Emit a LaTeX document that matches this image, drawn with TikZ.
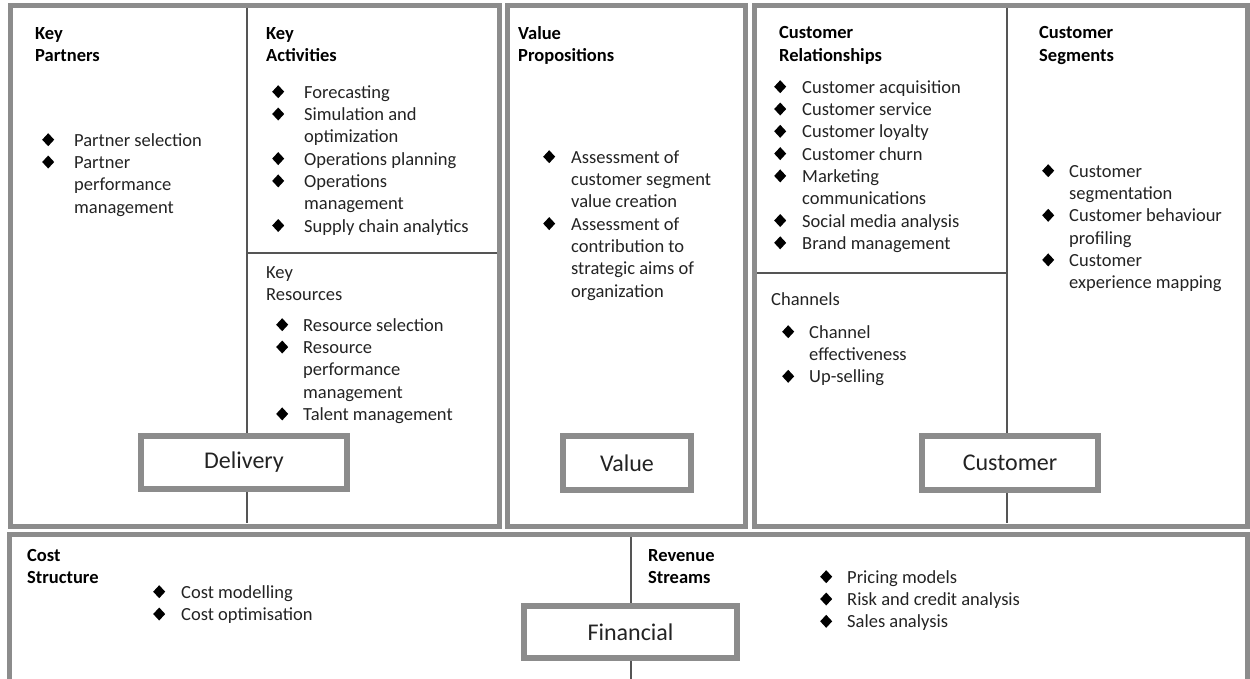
\documentclass[tikz,border=0pt]{standalone}
\usepackage{fontspec}
\setmainfont{Carlito}
\definecolor{bord}{RGB}{140,140,140}
\definecolor{thinc}{RGB}{85,85,85}
\definecolor{txt}{RGB}{35,35,35}
\newlength\bw
\newcommand\dia{\tikz[baseline=0pt]\fill[black] (6bp,0bp)--(12bp,6.5bp)--(6bp,13bp)--(0bp,6.5bp)--cycle;}
\newcommand\bl{\strut\makebox[\bw][l]{\dia}}
\newcommand\ind{\strut\hspace*{\bw}}
\newcommand\hs{\strut}
\tikzset{
  lst/.style={anchor=north west, inner sep=0pt, align=left,
    font=\fontsize{18.5bp}{22.3bp}\selectfont, text=txt,
    execute at begin node={\setlength\bw{#1bp}}},
  hdr/.style={anchor=north west, inner sep=0pt, align=left,
    font=\fontsize{18.5bp}{22.3bp}\selectfont\bfseries, text=black},
  hdrn/.style={anchor=north west, inner sep=0pt, align=left,
    font=\fontsize{18.5bp}{22.3bp}\selectfont, text=txt},
  lbl/.style={draw=bord, line width=6bp, fill=white,
    font=\fontsize{24bp}{28bp}\selectfont, text=txt, inner sep=0pt},
  outerbox/.style={draw=bord, line width=5bp},
  divline/.style={draw=thinc, line width=1.5bp}
}
\begin{document}
\begin{tikzpicture}[x=1bp,y=-1bp]
\useasboundingbox (0,0) rectangle (1250,679);
% outer boxes
\draw[outerbox] (10.5,5.5) rectangle (499.5,526);
\draw[outerbox] (507.5,5.5) rectangle (745.5,526);
\draw[outerbox] (754.5,5.5) rectangle (1247.5,526);
\draw[outerbox] (9.5,534.5) rectangle (1247.5,681);
% label boxes
\node[lbl, minimum width=206bp, minimum height=53bp] (delivery) at (244,462.5) {Delivery};
\node[lbl, minimum width=128bp, minimum height=54bp] (value) at (627,463) {Value};
\node[lbl, minimum width=176bp, minimum height=54bp] (customer) at (1010,463) {Customer};
\node[lbl, minimum width=213bp, minimum height=52bp] (financial) at (630.5,632) {Financial};
% divider coordinates
\coordinate (a1) at (247,8);
\coordinate (a2) at (247,523);
\coordinate (b1) at (1007,8);
\coordinate (b2) at (1007,523);
\coordinate (c1) at (631,537);
\coordinate (c2) at (631,679);
\coordinate (h1) at (247,253);
\coordinate (h2) at (497,253);
\coordinate (k1) at (757,273);
\coordinate (k2) at (1007,273);
\draw[divline] (a1) -- (a1 |- delivery.north);
\draw[divline] (a1 |- delivery.south) -- (a2);
\draw[divline] (b1) -- (b1 |- customer.north);
\draw[divline] (b1 |- customer.south) -- (b2);
\draw[divline] (c1) -- (c1 |- financial.north);
\draw[divline] (c1 |- financial.south) -- (c2);
\draw[divline] (h1) -- (h2);
\draw[divline] (k1) -- (k2);
% headers
\node[hdr] (kph) at (35,23.4) {\hs Key\\\hs Partners};
\node[hdr] (kah) at (266,23.4) {\hs Key\\\hs Activities};
\node[hdrn] (krh) at (266,262.4) {\hs Key\\\hs Resources};
\node[hdr] (vph) at (518,23.4) {\hs Value\\\hs Propositions};
\node[hdr] (crh) at (779,23) {\hs Customer\\\hs Relationships};
\node[hdrn] (chh) at (771,289.4) {\hs Channels};
\node[hdr] (csh) at (1039,23) {\hs Customer\\\hs Segments};
\node[hdr] (coh) at (27,545.4) {\hs Cost\\\hs Structure};
\node[hdr] (rvh) at (648,545.4) {\hs Revenue\\\hs Streams};
% lists
\node[lst=32] (kpl) at (42,130.4) {\bl Partner selection\\\bl Partner\\\ind performance\\\ind management};
\node[lst=32] (kal) at (272,82.4) {\bl Forecasting\\\bl Simulation and\\\ind optimization\\\bl Operations planning\\\bl Operations\\\ind management\\\bl Supply chain analytics};
\node[lst=27] (krl) at (276,315.4) {\bl Resource selection\\\bl Resource\\\ind performance\\\ind management\\\bl Talent management};
\node[lst=28] (vpl) at (543,147.4) {\bl Assessment of\\\ind customer segment\\\ind value creation\\\bl Assessment of\\\ind contribution to\\\ind strategic aims of\\\ind organization};
\node[lst=28] (crl) at (774,77.4) {\bl Customer acquisition\\\bl Customer service\\\bl Customer loyalty\\\bl Customer churn\\\bl Marketing\\\ind communications\\\bl Social media analysis\\\bl Brand management};
\node[lst=27] (chl) at (782,322.4) {\bl Channel\\\ind effectiveness\\\bl Up-selling};
\node[lst=27] (csl) at (1042,161.4) {\bl Customer\\\ind segmentation\\\bl Customer behaviour\\\ind profiling\\\bl Customer\\\ind experience mapping};
\node[lst=28] (col) at (153,582.4) {\bl Cost modelling\\\bl Cost optimisation};
\node[lst=27] (rvl) at (820,567.4) {\bl Pricing models\\\bl Risk and credit analysis\\\bl Sales analysis};
\end{tikzpicture}
\end{document}
